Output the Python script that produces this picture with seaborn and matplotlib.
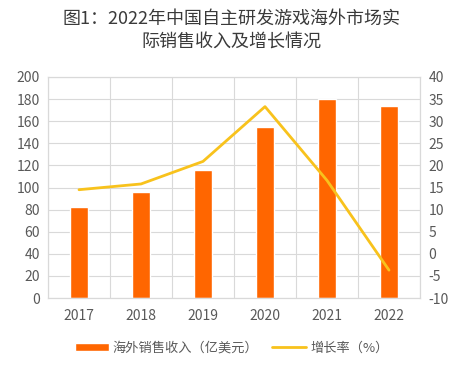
import matplotlib
matplotlib.use("Agg")
import matplotlib.pyplot as plt
import numpy as np
import pandas as pd
import seaborn as sns

# data
years = ["2017", "2018", "2019", "2020", "2021", "2022"]
revenue = [82.8, 95.9, 115.9, 154.5, 180.1, 173.5]   # 亿美元
growth = [14.5, 15.8, 20.9, 33.3, 16.6, -3.7]         # %

title = "图1：2022年中国自主研发游戏海外市场实\n际销售收入及增长情况"
bar_label = "海外销售收入（亿美元）"
line_label = "增长率（%）"

bar_color = "#FF6600"
line_color = "#F8C21C"
grid_color = "#D9D9D9"
text_color = "#595959"

sns.set_theme(style="white")
plt.rcParams["font.family"] = ["Noto Sans CJK SC", "DejaVu Sans"]
plt.rcParams["axes.unicode_minus"] = False

df = pd.DataFrame({"year": years, "revenue": revenue, "growth": growth})

fig = plt.figure(figsize=(4.63, 3.72), dpi=100)
ax = fig.add_axes([48 / 463, 1 - 298 / 372, 372 / 463, 221 / 372])

sns.barplot(data=df, x="year", y="revenue", color=bar_color, saturation=1,
            width=0.3, ax=ax, label=bar_label, zorder=2)

ax2 = ax.twinx()
sns.pointplot(data=df, x="year", y="growth", color=line_color, markers="",
              linewidth=2, ax=ax2, label=line_label, errorbar=None)

ax.set_ylim(0, 200)
ax.set_yticks(np.arange(0, 201, 20))
ax2.set_ylim(-10, 40)
ax2.set_yticks(np.arange(-10, 41, 5))
ax.set_xlim(-0.5, len(years) - 0.5)
ax2.set_xlim(-0.5, len(years) - 0.5)

# grid: horizontal at ticks, vertical at category boundaries
ax.set_xticks(np.arange(-0.5, len(years), 1), minor=True)
ax.grid(axis="y", color=grid_color, lw=0.8, zorder=0)
ax.grid(axis="x", which="minor", color=grid_color, lw=0.8, zorder=0)
ax.grid(axis="x", which="major", visible=False)
ax.set_axisbelow(True)
ax2.grid(False)

for a in (ax, ax2):
    for s in a.spines.values():
        s.set_color(grid_color)
        s.set_linewidth(0.8)
    a.tick_params(which="both", length=0, labelsize=10, labelcolor=text_color)
    a.set_xlabel("")
    a.set_ylabel("")
ax.tick_params(axis="x", pad=8)
ax.tick_params(axis="y", pad=6)
ax2.tick_params(axis="y", pad=6)

fig.suptitle(title, x=0.5, y=1 - 10 / 372, va="top", fontsize=13,
             color="#3A3A3A", linespacing=1.35)

h1 = ax.containers[0]
h2 = ax2.lines[0]
if ax.get_legend():
    ax.get_legend().remove()
if ax2.get_legend():
    ax2.get_legend().remove()
fig.legend([h1, h2], [bar_label, line_label], loc="center",
           bbox_to_anchor=(0.5, 1 - 348 / 372), ncol=2, frameon=False,
           fontsize=9.5, labelcolor=text_color, handlelength=2.6,
           handleheight=0.6, columnspacing=1.0, handletextpad=0.3)

fig.savefig("out.png", dpi=100)
